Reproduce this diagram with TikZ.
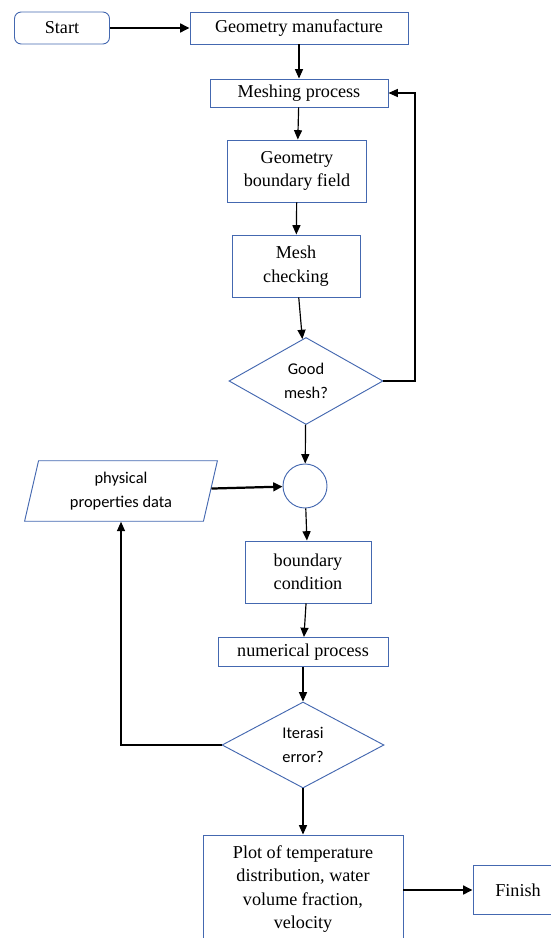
\documentclass[tikz,border=0pt]{standalone}
\usepackage{fontspec}
\setmainfont{Liberation Serif}
\newfontfamily\sansfnt{Carlito}
\usepackage{tikz}
\usetikzlibrary{arrows.meta,shapes.geometric}
\definecolor{boxblue}{RGB}{68,104,176}
\tikzset{
  procbox/.style  = {draw=boxblue,line width=0.8pt,rectangle,align=center,inner sep=0pt,
                     font=\fontsize{15.5}{20}\selectfont},
  termbox/.style  = {procbox,rounded corners=2mm},
  decbox/.style   = {draw=boxblue,line width=0.8pt,diamond,align=center,inner sep=0pt,
                     font=\sansfnt\fontsize{14}{20}\selectfont},
  databox/.style  = {draw=boxblue,line width=0.8pt,trapezium,trapezium left angle=77,
                     trapezium right angle=103,align=center,inner sep=0pt,
                     font=\sansfnt\fontsize{14}{20}\selectfont},
  flowarr/.style  = {-{Triangle[length=2.8mm,width=2.4mm]},line width=1pt},
  thickarr/.style = {-{Triangle[length=2.8mm,width=2.6mm]},line width=1.9pt}
}

\begin{document}
\begin{tikzpicture}[x=0.3mm,y=-0.3mm]
  \useasboundingbox (0,0) rectangle (551,938);
  % top row
  \node[termbox,minimum width=28.5mm,minimum height=9.6mm] (start) at (62,28) {Start};
  \node[procbox,minimum width=65.4mm,minimum height=9.6mm] (geom) at (299,28) {Geometry manufacture};
  % meshing part
  \node[procbox,minimum width=53.4mm,minimum height=8.4mm] (mesh) at (299,93) {Meshing process};
  \node[procbox,minimum width=41.7mm,minimum height=18.6mm] (bfield) at (297,171) {Geometry\\boundary field};
  \node[procbox,minimum width=38.4mm,minimum height=18.6mm] (check) at (296,266) {Mesh\\checking};
  \node[decbox,minimum width=46.2mm,minimum height=26.1mm] (good) at (306,381) {Good\\mesh?};
  % solver part
  \node[draw=boxblue,line width=0.8pt,circle,minimum size=13.2mm,inner sep=0pt] (join) at (305,486) {};
  \node[databox,minimum width=57.9mm,minimum height=16.2mm] (phys) at (121,491) {physical\\properties data};
  \node[procbox,minimum width=37.8mm,minimum height=18.6mm] (bcond) at (308,572) {boundary\\condition};
  \node[procbox,minimum width=51mm,minimum height=8.7mm] (numer) at (303,652) {numerical process};
  \node[decbox,minimum width=48.6mm,minimum height=25.8mm] (iter) at (303,745) {Iterasi\\error?};
  \node[procbox,minimum width=60mm,minimum height=32.4mm] (plot) at (303,889)
    {Plot of temperature\\distribution, water\\volume fraction,\\velocity};
  \node[procbox,minimum width=27mm,minimum height=14.7mm] (finish) at (518,890) {Finish};
  \coordinate (loopR) at (415,93);
  % connectors
  \draw[thickarr] (start) -- (geom);
  \draw[flowarr] (geom) -- (mesh);
  \draw[flowarr] (mesh) -- (bfield);
  \draw[flowarr] (bfield) -- (check);
  \draw[flowarr] (check) -- (good);
  \draw[flowarr] (good.east) -| (loopR) -- (mesh.east);
  \draw[flowarr] (good) -- (join);
  \draw[thickarr] (phys) -- (join);
  \draw[flowarr] (join) -- (bcond);
  \draw[flowarr] (bcond) -- (numer);
  \draw[flowarr] (numer) -- (iter);
  \draw[flowarr] (iter.west) -| (phys.south);
  \draw[flowarr] (iter) -- (plot);
  \draw[thickarr] (plot.east |- finish) -- (finish);
\end{tikzpicture}
\end{document}
